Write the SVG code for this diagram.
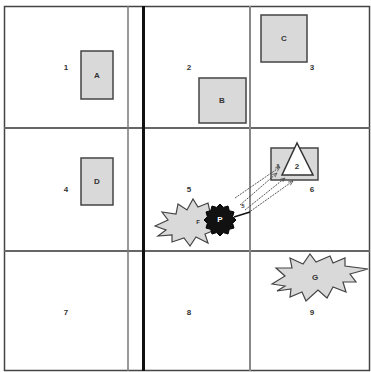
<svg xmlns="http://www.w3.org/2000/svg" width="371" height="372" viewBox="0 0 371 372">
<defs>
<style>
.box{fill:#d9d9d9;stroke:#444;stroke-width:1.5}
.lbl{font-family:"Liberation Sans",Arial,sans-serif;font-size:8px;font-weight:bold;fill:#333;text-anchor:middle;dominant-baseline:middle}
.num{font-family:"Liberation Sans",Arial,sans-serif;font-size:8px;font-weight:bold;fill:#333;text-anchor:middle;dominant-baseline:middle}
.burst{fill:#d9d9d9;stroke:#444;stroke-width:1.2;stroke-linejoin:miter}
.arr{stroke:#444;stroke-width:0.9;stroke-dasharray:2 1;fill:none;marker-end:url(#ah)}
</style>
<marker id="ah" viewBox="0 0 8 8" refX="7" refY="4" markerWidth="6" markerHeight="6" orient="auto">
<path d="M0,1 L7,4 L0,7" fill="none" stroke="#444" stroke-width="1"/>
</marker>
</defs>
<rect width="371" height="372" fill="#fff"/>
<g id="grid">
<rect x="4.5" y="6.5" width="365" height="364" fill="none" stroke="#444" stroke-width="1.5"/>
<line x1="4" y1="128" x2="370" y2="128" stroke="#666" stroke-width="2"/>
<line x1="4" y1="251" x2="370" y2="251" stroke="#666" stroke-width="2"/>
<line x1="128" y1="6" x2="128" y2="371" stroke="#777" stroke-width="1.5"/>
<line x1="143.5" y1="6" x2="143.5" y2="371" stroke="#111" stroke-width="3"/>
<line x1="250" y1="6" x2="250" y2="371" stroke="#888" stroke-width="2"/>
</g>
<g id="cells">
<text class="num" x="66" y="68">1</text>
<text class="num" x="189" y="68">2</text>
<text class="num" x="312" y="68">3</text>
<text class="num" x="66" y="190">4</text>
<text class="num" x="189" y="190">5</text>
<text class="num" x="312" y="190">6</text>
<text class="num" x="66" y="313">7</text>
<text class="num" x="189" y="313">8</text>
<text class="num" x="312" y="313">9</text>
</g>
<g id="A"><rect class="box" x="81" y="51" width="32" height="48"/><text class="lbl" x="97" y="76">A</text></g>
<g id="B"><rect class="box" x="199" y="78" width="47" height="45"/><text class="lbl" x="222" y="101">B</text></g>
<g id="C"><rect class="box" x="261" y="15" width="46" height="47"/><text class="lbl" x="284" y="39">C</text></g>
<g id="D"><rect class="box" x="81" y="158" width="32" height="47"/><text class="lbl" x="97" y="182">D</text></g>
<g id="E"><rect class="box" x="271" y="148" width="47" height="32"/>
<polygon points="297,143 282,175 313,175" fill="#fff" stroke="#333" stroke-width="1.5"/>
<text class="lbl" x="297" y="167">2</text>
<text class="lbl" x="278" y="166" style="font-size:5px">a</text></g>
<g id="G"><polygon class="burst" points="272,284 285,276 276,268 292,268 290,258 303,264 310,254 316,262 330,256 333,263 345,258 345,266 368,269 350,274 356,282 343,282 346,292 333,287 327,298 318,290 306,301 302,292 290,297 291,289 277,291 285,286"/><text class="lbl" x="315" y="278">G</text></g>
<g id="F"><polygon class="burst" points="155,226 168,220 162,212 176,214 178,204 187,210 193,199 198,207 208,203 210,212 218,214 215,230 205,234 208,243 196,237 190,246 184,238 172,242 172,235 158,236 166,230"/><text class="lbl" x="198" y="222" style="font-size:6px">F</text></g>
<g id="connectors">
<line class="arr" x1="235" y1="198" x2="280" y2="167"/>
<line class="arr" x1="240" y1="205" x2="277" y2="173"/>
<line class="arr" x1="245" y1="210" x2="285" y2="178"/>
<line class="arr" x1="248" y1="213" x2="293" y2="181"/>
<line x1="234" y1="217" x2="250" y2="212" stroke="#111" stroke-width="1.5"/>
<text class="lbl" x="243" y="206" style="font-size:6px">5</text>
</g>
<g id="P"><polygon points="236,220 232.6,223.3 234,228 229.3,229.3 228,234 223.3,232.6 220,236 216.7,232.6 212,234 210.7,229.3 206,228 207.4,223.3 204,220 207.4,216.7 206,212 210.7,210.7 212,206 216.7,207.4 220,204 223.3,207.4 228,206 229.3,210.7 234,212 232.6,216.7" fill="#111" stroke="#000" stroke-width="1"/><text class="lbl" x="220" y="220" style="fill:#fff">P</text></g>
</svg>
